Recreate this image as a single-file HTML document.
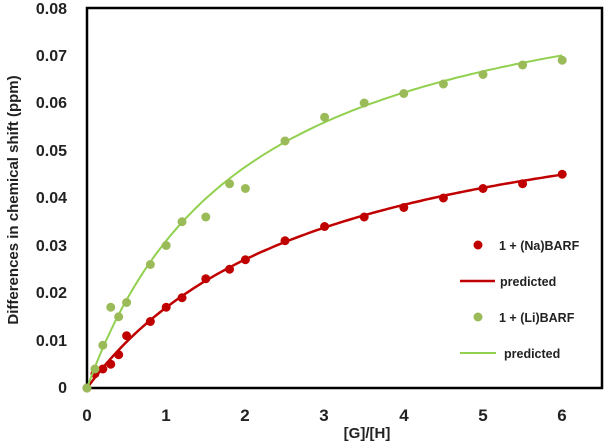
<!DOCTYPE html>
<html><head><meta charset="utf-8"><style>
html,body{margin:0;padding:0;background:#fff;width:604px;height:443px;overflow:hidden}
svg{display:block;font-family:"Liberation Sans",Arial,sans-serif;font-weight:bold}
</style></head><body>
<svg id="s" width="604" height="443" viewBox="0 0 604 443">
<rect x="87" y="8" width="515" height="380" fill="none" stroke="#000" stroke-width="2.5"/>
<g font-size="16" text-anchor="end" fill="#222">
<text x="67" y="393">0</text><text x="67" y="346">0.01</text><text x="67" y="298">0.02</text>
<text x="67" y="251">0.03</text><text x="67" y="203">0.04</text><text x="67" y="156">0.05</text>
<text x="67" y="108">0.06</text><text x="67" y="61">0.07</text><text x="67" y="14">0.08</text>
</g>
<g font-size="17" text-anchor="middle" fill="#222">
<text x="87" y="421">0</text><text x="166" y="421">1</text><text x="245" y="421">2</text>
<text x="324" y="421">3</text><text x="404" y="421">4</text><text x="483" y="421">5</text><text x="562" y="421">6</text>
<text x="367" y="438" font-size="15">[G]/[H]</text>
<text transform="translate(18,200) rotate(-90)" font-size="15">Differences in chemical shift (ppm)</text>
</g>
<g id="plot"></g>
<g font-size="12.5" fill="#222">
<circle cx="478" cy="245" r="4.5" fill="#c00000"/><text x="499" y="250">1 + (Na)BARF</text>
<line x1="460" y1="281" x2="495" y2="281" stroke="#c00000" stroke-width="2.5"/><text x="500" y="286">predicted</text>
<circle cx="478" cy="317" r="4.5" fill="#9bbb59"/><text x="499" y="322">1 + (Li)BARF</text>
<line x1="460" y1="353" x2="496" y2="353" stroke="#92d050" stroke-width="2"/><text x="504" y="358">predicted</text>
</g>
</svg>
<script>
var X=function(x){return 87+x*79.2},Y=function(y){return 388-y*4750};
var g=document.getElementById('plot'),h='';
function curve(a,b,c,w){var d='';for(var i=0;i<=120;i++){var x=i*0.05;d+=(i?'L':'M')+X(x).toFixed(1)+' '+Y(a*x/(b+x)).toFixed(1);}h+='<path d="'+d+'" fill="none" stroke="'+c+'" stroke-width="'+w+'"/>';}
var xs=[0,0.1,0.2,0.3,0.4,0.5,0.8,1,1.2,1.5,1.8,2,2.5,3,3.5,4,4.5,5,5.5,6];
var r=[0,0.003,0.004,0.005,0.007,0.011,0.014,0.017,0.019,0.023,0.025,0.027,0.031,0.034,0.036,0.038,0.04,0.042,0.043,0.045];
var gr=[0,0.004,0.009,0.017,0.015,0.018,0.026,0.030,0.035,0.036,0.043,0.042,0.052,0.057,0.060,0.062,0.064,0.066,0.068,0.069];
curve(0.067,2.95,'#c00000',2.5);
for(var i=0;i<xs.length;i++)h+='<circle cx="'+X(xs[i])+'" cy="'+Y(r[i])+'" r="4.5" fill="#c00000"/>';
curve(0.0936,2.02,'#92d050',2);
for(var i=0;i<xs.length;i++)h+='<circle cx="'+X(xs[i])+'" cy="'+Y(gr[i])+'" r="4.5" fill="#9bbb59"/>';
g.innerHTML=h;
</script>
</body></html>
